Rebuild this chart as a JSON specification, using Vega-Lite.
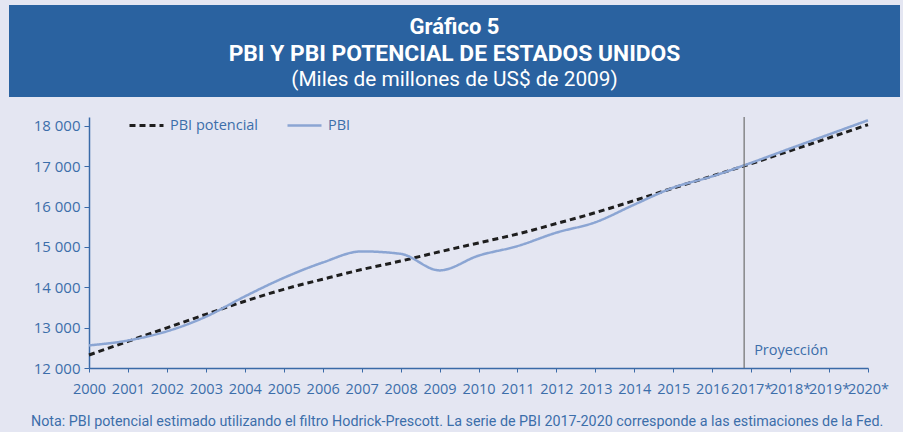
{
  "$schema": "https://vega.github.io/schema/vega-lite/v6.json",
  "background": "#e4e6f2",
  "padding": {"left": 9, "top": 5, "right": 3, "bottom": 3},
  "spacing": 18,
  "config": {
    "font": "Open Sans",
    "view": {"stroke": null},
    "axis": {"grid": false}
  },
  "datasets": {
    "banner": [
      {"line": 1, "text": "Gráfico 5"},
      {"line": 2, "text": "PBI Y PBI POTENCIAL DE ESTADOS UNIDOS"},
      {"line": 3, "text": "(Miles de millones de US$ de 2009)"}
    ],
    "series": [
      {"year": 2000, "serie": "PBI potencial", "value": 12323},
      {"year": 2001, "serie": "PBI potencial", "value": 12660},
      {"year": 2002, "serie": "PBI potencial", "value": 12995},
      {"year": 2003, "serie": "PBI potencial", "value": 13330},
      {"year": 2004, "serie": "PBI potencial", "value": 13655},
      {"year": 2005, "serie": "PBI potencial", "value": 13950},
      {"year": 2006, "serie": "PBI potencial", "value": 14200},
      {"year": 2007, "serie": "PBI potencial", "value": 14440},
      {"year": 2008, "serie": "PBI potencial", "value": 14650},
      {"year": 2009, "serie": "PBI potencial", "value": 14880},
      {"year": 2010, "serie": "PBI potencial", "value": 15100},
      {"year": 2011, "serie": "PBI potencial", "value": 15320},
      {"year": 2012, "serie": "PBI potencial", "value": 15580},
      {"year": 2013, "serie": "PBI potencial", "value": 15850},
      {"year": 2014, "serie": "PBI potencial", "value": 16150},
      {"year": 2015, "serie": "PBI potencial", "value": 16460},
      {"year": 2016, "serie": "PBI potencial", "value": 16760},
      {"year": 2017, "serie": "PBI potencial", "value": 17065},
      {"year": 2018, "serie": "PBI potencial", "value": 17385},
      {"year": 2019, "serie": "PBI potencial", "value": 17705},
      {"year": 2020, "serie": "PBI potencial", "value": 18030},
      {"year": 2000, "serie": "PBI", "value": 12560},
      {"year": 2001, "serie": "PBI", "value": 12682},
      {"year": 2002, "serie": "PBI", "value": 12909},
      {"year": 2003, "serie": "PBI", "value": 13271},
      {"year": 2004, "serie": "PBI", "value": 13774},
      {"year": 2005, "serie": "PBI", "value": 14234},
      {"year": 2006, "serie": "PBI", "value": 14614},
      {"year": 2007, "serie": "PBI", "value": 14890},
      {"year": 2008, "serie": "PBI", "value": 14830},
      {"year": 2009, "serie": "PBI", "value": 14419},
      {"year": 2010, "serie": "PBI", "value": 14784},
      {"year": 2011, "serie": "PBI", "value": 15021},
      {"year": 2012, "serie": "PBI", "value": 15355},
      {"year": 2013, "serie": "PBI", "value": 15612},
      {"year": 2014, "serie": "PBI", "value": 16050},
      {"year": 2015, "serie": "PBI", "value": 16470},
      {"year": 2016, "serie": "PBI", "value": 16750},
      {"year": 2017, "serie": "PBI", "value": 17085},
      {"year": 2018, "serie": "PBI", "value": 17440},
      {"year": 2019, "serie": "PBI", "value": 17790},
      {"year": 2020, "serie": "PBI", "value": 18140}
    ]
  },
  "vconcat": [
    {
      "width": 891,
      "height": 92,
      "view": {"fill": "#2a62a0", "stroke": null},
      "data": {"name": "banner"},
      "encoding": {
        "y": {"field": "line", "type": "ordinal", "axis": null, "scale": {"type": "point", "padding": 0.704}},
        "text": {"field": "text", "type": "nominal"}
      },
      "layer": [
        {
          "transform": [{"filter": "datum.line == 1"}],
          "mark": {"type": "text", "font": "Roboto", "fontWeight": "bold", "fontSize": 22, "color": "white", "baseline": "middle", "dy": 3}
        },
        {
          "transform": [{"filter": "datum.line == 2"}],
          "mark": {"type": "text", "font": "Roboto", "fontWeight": "bold", "fontSize": 22.8, "color": "white", "baseline": "middle", "dy": 3}
        },
        {
          "transform": [{"filter": "datum.line == 3"}],
          "mark": {"type": "text", "font": "Roboto", "fontWeight": "normal", "fontSize": 20.8, "color": "white", "baseline": "middle", "dy": 2}
        }
      ]
    },
    {
      "width": 885,
      "height": 251,
      "title": {
        "text": "Nota: PBI potencial estimado utilizando el filtro Hodrick-Prescott. La serie de PBI 2017-2020 corresponde a las estimaciones de la Fed.",
        "orient": "bottom",
        "anchor": "start",
        "frame": "group",
        "dx": 22,
        "offset": 19,
        "font": "Roboto",
        "fontSize": 14.3,
        "fontWeight": "normal",
        "color": "#3c6eaa"
      },
      "layer": [
        {
          "data": {"name": "series"},
          "mark": {"type": "line", "interpolate": "monotone"},
          "encoding": {
            "x": {
              "field": "year",
              "type": "quantitative",
              "scale": {"domain": [2000, 2020], "range": [80, 859], "nice": false, "zero": false},
              "axis": {
                "values": [2000, 2001, 2002, 2003, 2004, 2005, 2006, 2007, 2008, 2009, 2010, 2011, 2012, 2013, 2014, 2015, 2016, 2017, 2018, 2019, 2020],
                "format": "d",
                "labelExpr": "datum.value > 2016 ? datum.label + '*' : datum.label",
                "title": null,
                "domainColor": "#3a6aa8",
                "domainWidth": 1.5,
                "tickColor": "#3a6aa8",
                "tickSize": 4,
                "labelPadding": 10,
                "labelFontSize": 14.5,
                "labelColor": "#3c6eaa",
                "labelFlush": false,
                "labelOverlap": false
              }
            },
            "y": {
              "field": "value",
              "type": "quantitative",
              "scale": {"domain": [12000, 18221], "nice": false, "zero": false},
              "axis": {
                "values": [12000, 13000, 14000, 15000, 16000, 17000, 18000],
                "format": ",d",
                "labelExpr": "replace(datum.label, ',', ' ')",
                "offset": -80,
                "title": null,
                "domainColor": "#3a6aa8",
                "domainWidth": 1.5,
                "tickColor": "#3a6aa8",
                "tickSize": 5,
                "labelPadding": 4,
                "labelFontSize": 15,
                "labelColor": "#3c6eaa"
              }
            },
            "color": {
              "field": "serie",
              "type": "nominal",
              "scale": {"domain": ["PBI potencial", "PBI"], "range": ["#1e1e1e", "#8ba5d3"]},
              "legend": {
                "orient": "none",
                "legendX": 119,
                "legendY": 102,
                "direction": "horizontal",
                "title": null,
                "symbolType": "stroke",
                "symbolSize": 1156,
                "symbolStrokeWidth": 2.5,
                "labelFont": "Open Sans",
                "labelFontSize": 14.5,
                "labelColor": "#3c6eaa",
                "labelOffset": 5,
                "columnPadding": 23
              }
            },
            "strokeDash": {
              "field": "serie",
              "type": "nominal",
              "scale": {"domain": ["PBI potencial", "PBI"], "range": [[6, 4], [1, 0]]}
            },
            "strokeWidth": {
              "field": "serie",
              "type": "nominal",
              "scale": {"domain": ["PBI potencial", "PBI"], "range": [3, 2.5]},
              "legend": null
            }
          }
        },
        {
          "data": {"values": [{"year": 2016.82}]},
          "mark": {"type": "rule", "color": "#6e6e6e", "strokeWidth": 1.2},
          "encoding": {"x": {"field": "year", "type": "quantitative"}}
        },
        {
          "data": {"values": [{"year": 2016.82, "value": 12420, "label": "Proyección"}]},
          "mark": {"type": "text", "align": "left", "dx": 10, "baseline": "middle", "fontSize": 14.5, "color": "#3c6eaa"},
          "encoding": {
            "x": {"field": "year", "type": "quantitative"},
            "y": {"field": "value", "type": "quantitative"},
            "text": {"field": "label", "type": "nominal"}
          }
        }
      ]
    }
  ]
}
